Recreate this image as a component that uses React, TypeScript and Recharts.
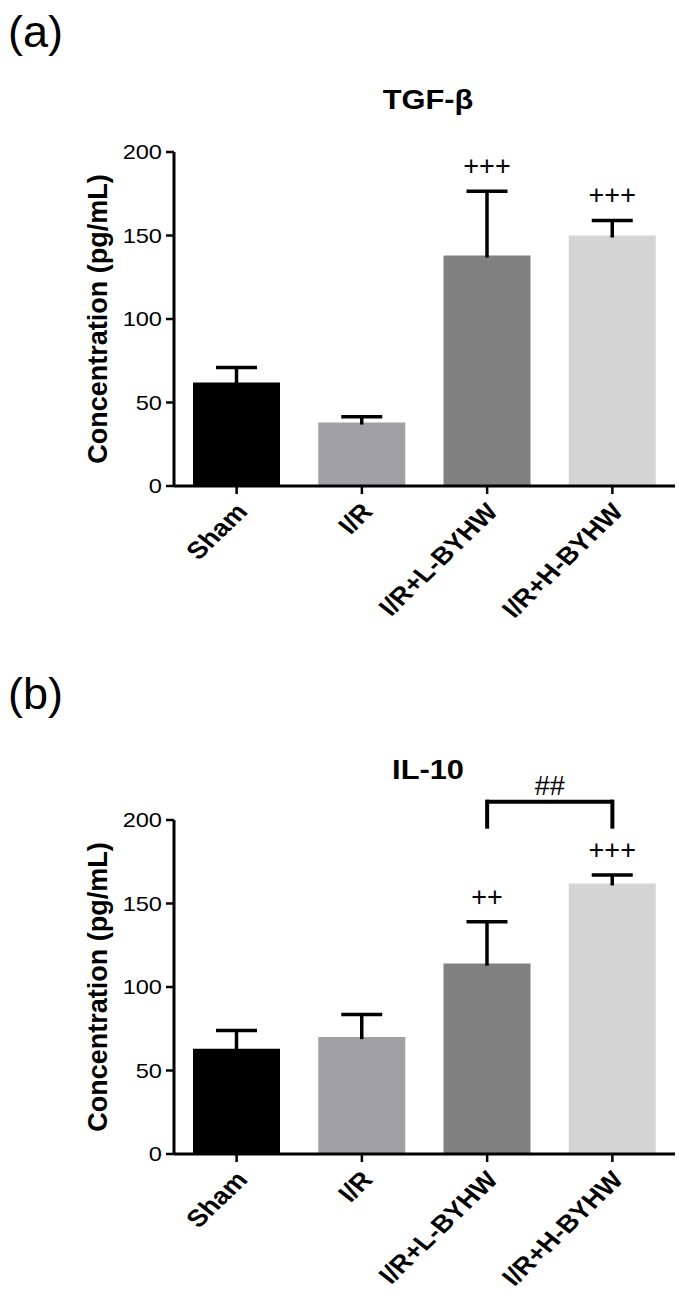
import React from "react";
import { Bar, BarChart, Cell, LabelList, ReferenceLine, XAxis, YAxis } from "recharts";

const groups = ["Sham", "I/R", "I/R+L-BYHW", "I/R+H-BYHW"];
const barColors = ["#000000", "#a1a1a5", "#808080", "#d4d4d4"];
const yTicks = [0, 50, 100, 150, 200];

// (a) TGF-β
const tgfMean = [62, 38, 138, 150];
const tgfSem = [9, 3.5, 38.5, 9];
const tgfSig = [null, null, "+++", "+++"];

// (b) IL-10
const il10Mean = [63, 70, 114, 162];
const il10Sem = [11, 13.5, 25, 5];
const il10Sig = [null, null, "++", "+++"];
const il10Bracket = { from: "I/R+L-BYHW", to: "I/R+H-BYHW", top: 211, bottom: 196, label: "##" };

const FONT = '"Liberation Sans", Arial, Helvetica, sans-serif';
// the source figure is a bit wider than tall, so text is stretched sideways
const SX = 1.18;

function ErrorCap(props: any) {
  const { x, y, width, height } = props;
  if (x == null || y == null) return null;
  const cx = x + width / 2;
  return (
    <g stroke="#000" strokeWidth={3.5}>
      <line x1={cx} x2={cx} y1={y + height + 2} y2={y} />
      <line x1={cx - 20.5} x2={cx + 20.5} y1={y} y2={y} />
    </g>
  );
}

function GroupTick(props: any) {
  const { x, y, payload } = props;
  const ax = x + 5;
  const ay = y + 11;
  return (
    <g transform={`translate(${ax},${ay}) scale(1.15,1) rotate(-48)`}>
      <text x={0} y={0} dy="0.35em" textAnchor="end" fontSize={24} fontWeight={700} fill="#000">
        {payload.value}
      </text>
    </g>
  );
}

function ValueTick(props: any) {
  const { x, y, payload } = props;
  return (
    <g transform={`translate(${x},${y}) scale(${SX},1)`}>
      <text x={0} y={0} dy="0.35em" textAnchor="end" fontSize={20} fill="#000">
        {payload.value}
      </text>
    </g>
  );
}

type PanelProps = {
  mean: number[];
  sem: number[];
  sig: (string | null)[];
  height: number;
  top: number;
  bracket?: typeof il10Bracket;
};

function Panel({ mean, sem, sig, height, top, bracket }: PanelProps) {
  const data = groups.map((g, i) => ({ group: g, mean: mean[i], sem: sem[i], sig: sig[i] }));
  const plotH = 334;
  return (
    <BarChart width={687} height={height} data={data} margin={{ top, right: 12, bottom: 0, left: 0 }}>
      <XAxis
        dataKey="group"
        interval={0}
        height={height - top - plotH}
        tick={<GroupTick />}
        tickSize={8}
        tickLine={{ stroke: "#000", strokeWidth: 2.5 }}
        axisLine={{ stroke: "#000", strokeWidth: 3 }}
      />
      <YAxis
        domain={[0, 200]}
        ticks={yTicks}
        width={174}
        tickSize={8}
        tickMargin={4}
        tick={<ValueTick />}
        tickLine={{ stroke: "#000", strokeWidth: 2.5 }}
        axisLine={{ stroke: "#000", strokeWidth: 3 }}
        label={{
          value: "Concentration (pg/mL)",
          angle: -90,
          position: "center",
          dx: 10,
          fontSize: 27,
          fontWeight: 700,
          fill: "#000",
        }}
      />
      <Bar dataKey="mean" stackId="s" barSize={87} isAnimationActive={false}>
        {data.map((d, i) => (
          <Cell key={d.group} fill={barColors[i]} />
        ))}
      </Bar>
      <Bar dataKey="sem" stackId="s" barSize={87} shape={<ErrorCap />} isAnimationActive={false}>
        <LabelList dataKey="sig" position="top" offset={16} fill="#000" fontSize={27} />
      </Bar>
      {bracket && (
        <ReferenceLine
          segment={[
            { x: bracket.from, y: bracket.top },
            { x: bracket.to, y: bracket.top },
          ]}
          stroke="#000"
          strokeWidth={4}
          ifOverflow="visible"
          label={{ value: bracket.label, position: "top", offset: 7, fill: "#000", fontSize: 27 }}
        />
      )}
      {bracket && (
        <ReferenceLine
          segment={[
            { x: bracket.from, y: bracket.bottom },
            { x: bracket.from, y: bracket.top },
          ]}
          stroke="#000"
          strokeWidth={4}
          strokeLinecap="square"
          ifOverflow="visible"
        />
      )}
      {bracket && (
        <ReferenceLine
          segment={[
            { x: bracket.to, y: bracket.bottom },
            { x: bracket.to, y: bracket.top },
          ]}
          stroke="#000"
          strokeWidth={4}
          strokeLinecap="square"
          ifOverflow="visible"
        />
      )}
    </BarChart>
  );
}

export default function App() {
  return (
    <div
      style={{
        position: "absolute",
        left: 0,
        top: 0,
        width: 687,
        height: 1295,
        background: "#fff",
        fontFamily: FONT,
      }}
    >
      <div style={{ position: "absolute", left: 0, top: 0 }}>
        <Panel mean={tgfMean} sem={tgfSem} sig={tgfSig} height={640} top={152} />
      </div>
      <div style={{ position: "absolute", left: 0, top: 640 }}>
        <Panel mean={il10Mean} sem={il10Sem} sig={il10Sig} height={655} top={180} bracket={il10Bracket} />
      </div>
      <svg
        width={687}
        height={1295}
        style={{ position: "absolute", left: 0, top: 0, pointerEvents: "none" }}
      >
        <text x={8} y={47} fontSize={45} fill="#000">(a)</text>
        <g transform={`translate(428,109) scale(1.1,1)`}>
          <text x={0} y={0} fontSize={28} fontWeight={700} textAnchor="middle" fill="#000">TGF-β</text>
        </g>
        <text x={8} y={709} fontSize={45} fill="#000">(b)</text>
        <g transform={`translate(428,779) scale(1.1,1)`}>
          <text x={0} y={0} fontSize={28} fontWeight={700} textAnchor="middle" fill="#000">IL-10</text>
        </g>
      </svg>
    </div>
  );
}
